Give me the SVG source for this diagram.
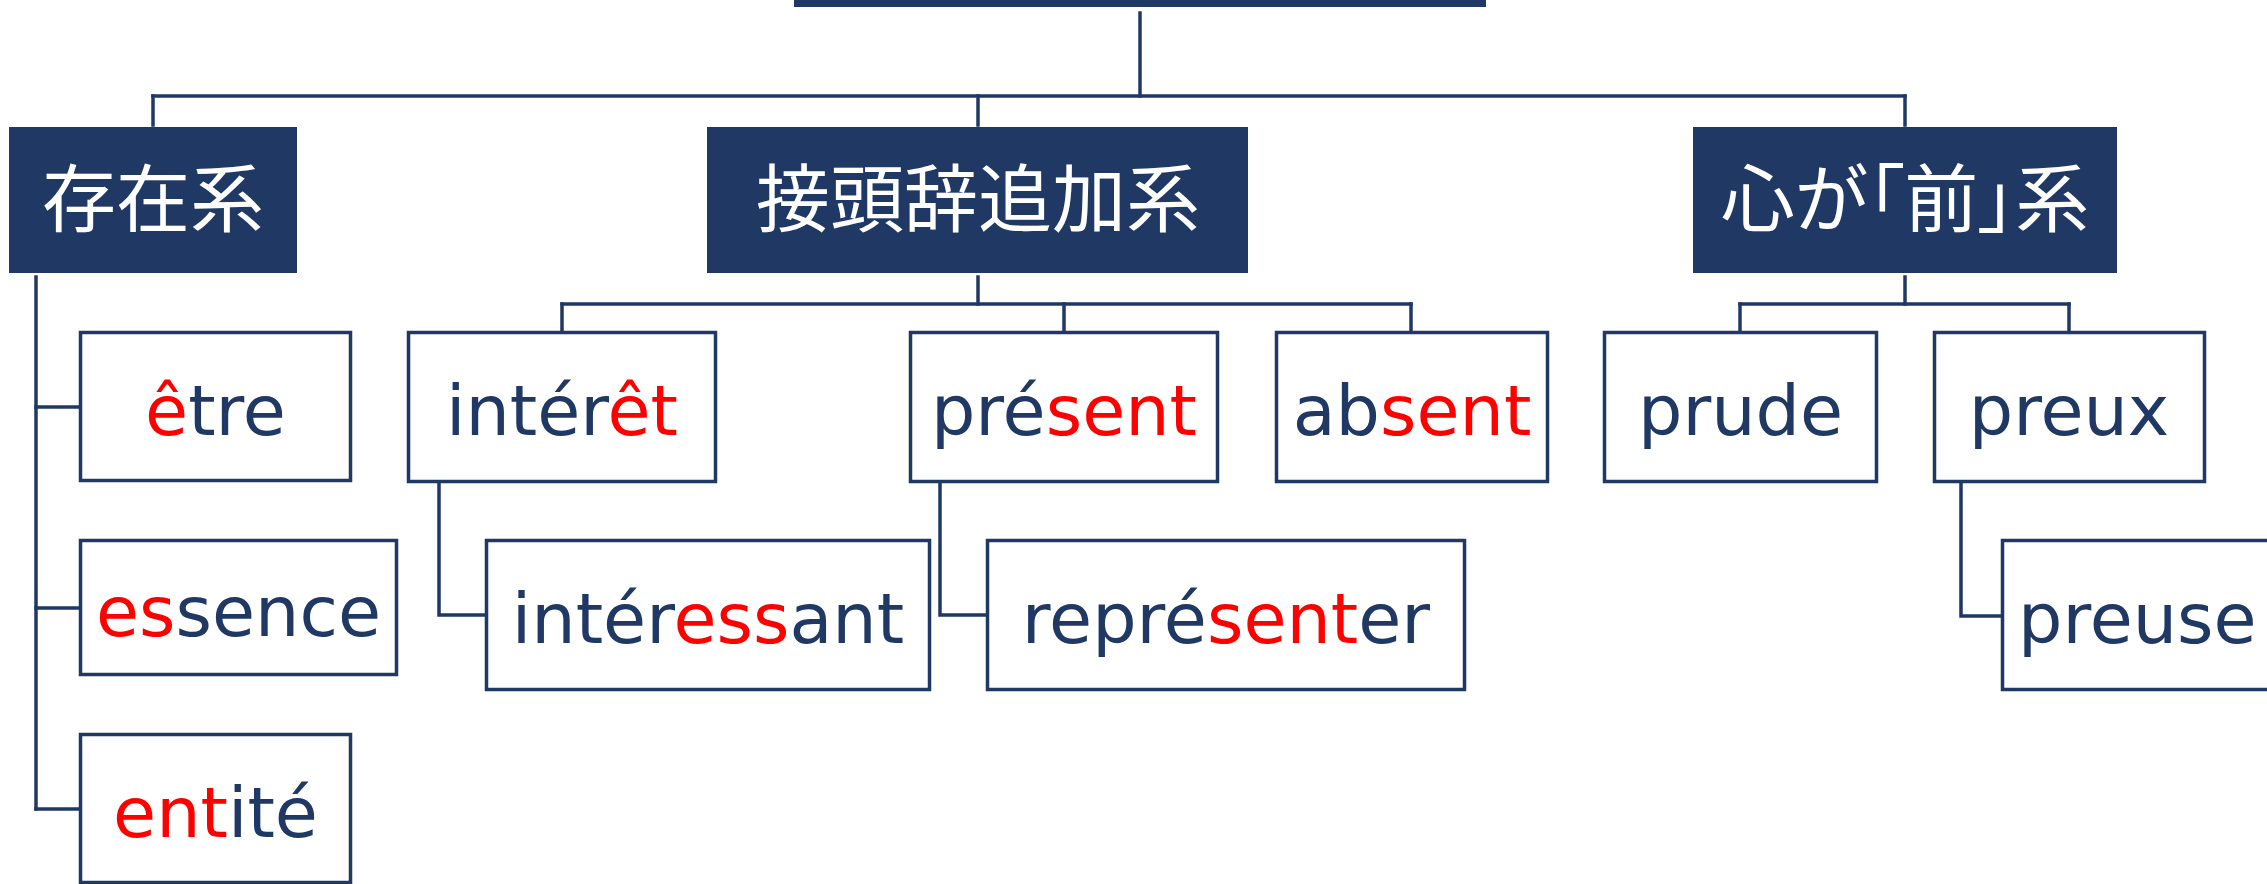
<svg xmlns="http://www.w3.org/2000/svg" width="2267" height="884" viewBox="0 0 2267 884">
<style>
.cat{fill:#1F3864;stroke:none}
.box{fill:#FFFFFF;stroke:#1F3864;stroke-width:3.5}
.conn{fill:none;stroke:#1F3864;stroke-width:3.5;stroke-linecap:square;stroke-linejoin:miter}
.ct{font-family:"Noto Sans CJK JP","Noto Sans CJK SC",sans-serif;font-size:74px;fill:#FFFFFF;text-anchor:middle}
.palt{font-feature-settings:"palt" 1}
.wt{font-family:"DejaVu Sans","Liberation Sans",sans-serif;font-size:70px;fill:#1F3864;text-anchor:middle}
.ws{text-anchor:start}
.r{fill:#FF0000}
</style>
<rect width="2267" height="884" fill="#FFFFFF"/>
<g id="connectors">
<path class="conn" d="M1140 13 V96"/>
<path class="conn" d="M153 96 H1905"/>
<path class="conn" d="M153 96 V125"/>
<path class="conn" d="M978 96 V125"/>
<path class="conn" d="M1905 96 V125"/>
<path class="conn" d="M36 277 V809"/>
<path class="conn" d="M36 407 H79"/>
<path class="conn" d="M36 608 H79"/>
<path class="conn" d="M36 809 H79"/>
<path class="conn" d="M978 277 V304"/>
<path class="conn" d="M562 304 H1411"/>
<path class="conn" d="M562 304 V331"/>
<path class="conn" d="M1064 304 V331"/>
<path class="conn" d="M1411 304 V331"/>
<path class="conn" d="M439 483 V615 H485"/>
<path class="conn" d="M940 483 V615 H987"/>
<path class="conn" d="M1905 277 V304"/>
<path class="conn" d="M1740 304 H2069"/>
<path class="conn" d="M1740 304 V331"/>
<path class="conn" d="M2069 304 V331"/>
<path class="conn" d="M1961 483 V616 H2001"/>
</g>
<g id="root">
<rect class="cat" x="794" y="-10" width="692" height="17"/>
</g>
<g id="sonzai">
<rect class="cat" x="9" y="127" width="288" height="146"/>
<text class="ct" x="153" y="226">存在系</text>
</g>
<g id="settouji">
<rect class="cat" x="707" y="127" width="541" height="146"/>
<text class="ct" x="978" y="226">接頭辞追加系</text>
</g>
<g id="kokoro">
<rect class="cat" x="1693" y="127" width="424" height="146"/>
<text class="ct palt" x="1905" y="226">心が「前」系</text>
</g>
<g id="etre">
<rect class="box" x="80.5" y="332.5" width="270" height="148"/>
<text class="wt" x="215.5" y="435"><tspan class="r">ê</tspan>tre</text>
</g>
<g id="essence">
<rect class="box" x="80.5" y="540.5" width="316" height="134"/>
<text class="wt" x="238.5" y="636"><tspan class="r">es</tspan>sence</text>
</g>
<g id="entite">
<rect class="box" x="80.5" y="734.5" width="270" height="148"/>
<text class="wt" x="215.5" y="837"><tspan class="r">ent</tspan>ité</text>
</g>
<g id="interet">
<rect class="box" x="408.5" y="332.5" width="307" height="149"/>
<text class="wt" x="562" y="435">intér<tspan class="r">êt</tspan></text>
</g>
<g id="present">
<rect class="box" x="910.5" y="332.5" width="307" height="149"/>
<text class="wt" x="1064" y="435">pré<tspan class="r">sent</tspan></text>
</g>
<g id="absent">
<rect class="box" x="1276.5" y="332.5" width="271" height="149"/>
<text class="wt" x="1412" y="435">ab<tspan class="r">sent</tspan></text>
</g>
<g id="interessant">
<rect class="box" x="486.5" y="540.5" width="443" height="149"/>
<text class="wt" x="708" y="643">intér<tspan class="r">ess</tspan>ant</text>
</g>
<g id="representer">
<rect class="box" x="987.5" y="540.5" width="477" height="149"/>
<text class="wt" x="1226" y="643">repré<tspan class="r">sent</tspan>er</text>
</g>
<g id="prude">
<rect class="box" x="1604.5" y="332.5" width="272" height="149"/>
<text class="wt" x="1740.5" y="435">prude</text>
</g>
<g id="preux">
<rect class="box" x="1934.5" y="332.5" width="270" height="149"/>
<text class="wt" x="2069" y="435">preux</text>
</g>
<g id="preuse">
<rect class="box" x="2002.5" y="540.5" width="300" height="149"/>
<text class="wt ws" x="2018" y="643">preuse</text>
</g>
</svg>
